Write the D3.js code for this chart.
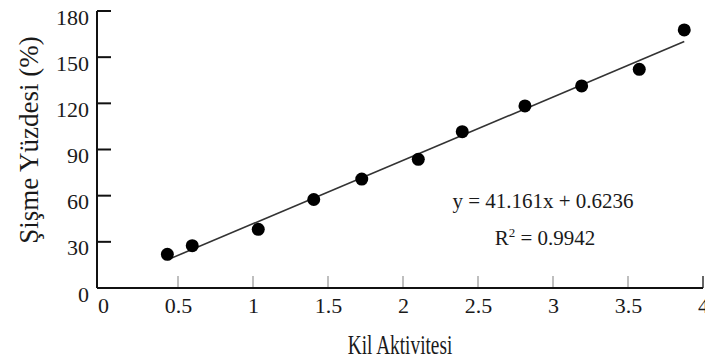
<!DOCTYPE html>
<html><head><meta charset="utf-8">
<script src="https://cdn.jsdelivr.net/npm/d3@7"></script>
<style>body{margin:0;background:#fff}svg{display:block}text{font-family:"Liberation Serif","Times New Roman",serif;fill:#1a1a1a}</style>
</head><body><svg id="c" width="705" height="364"></svg>
<script>
const xValues = [0.429, 0.595, 1.035, 1.405, 1.725, 2.102, 2.395, 2.813, 3.191, 3.575, 3.875];
const yValues = [21.9, 27.5, 38.1, 57.5, 70.8, 83.6, 101.6, 118.3, 131.3, 142.1, 167.7];
const xTicks = [0, 0.5, 1, 1.5, 2, 2.5, 3, 3.5, 4];
const yTicks = [0, 30, 60, 90, 120, 150, 180];
const slope = 41.161, intercept = 0.6236;
const eqText = "y = 41.161x + 0.6236";
const r2Text = "0.9942";
const xTitle = "Kil Aktivitesi";
const yTitle = "Şişme Yüzdesi (%)";

const svg = d3.select("#c");
const x = d3.scaleLinear().domain([-0.04, 4]).range([97, 703]);
const y = d3.scaleLinear().domain([0, 180]).range([288, 11]);

// x axis
const xa = svg.append("g").attr("transform", `translate(0,${y(0)})`)
  .call(d3.axisBottom(x).tickValues(xTicks).tickSize(0).tickPadding(9).tickFormat(d => d));
xa.select(".domain").remove();
xa.selectAll("text").attr("font-size", 22).attr("font-family", "Liberation Serif").attr("fill", "#1a1a1a").attr("dy", "0.71em");
svg.append("g").selectAll("line").data(xTicks.filter(d => d > 0)).join("line")
  .attr("x1", d => x(d)).attr("x2", d => x(d)).attr("y1", y(0)).attr("y2", y(0) - 12)
  .attr("stroke", d => d === 4 ? "#333" : "#aaa").attr("stroke-width", 1.5);
svg.append("line").attr("x1", x(-0.04)).attr("x2", x(4)).attr("y1", y(0)).attr("y2", y(0))
  .attr("stroke", "#111").attr("stroke-width", 2);

// y axis
const ya = svg.append("g").attr("transform", `translate(${x(-0.04)},0)`)
  .call(d3.axisLeft(y).tickValues(yTicks).tickSize(0).tickPadding(8));
ya.select(".domain").remove();
ya.selectAll("text").attr("font-size", 22).attr("font-family", "Liberation Serif").attr("fill", "#1a1a1a").attr("y", 6);
svg.append("g").selectAll("line").data(yTicks.filter(d => d > 0)).join("line")
  .attr("x1", x(-0.04)).attr("x2", x(-0.04) + 14).attr("y1", d => y(d)).attr("y2", d => y(d))
  .attr("stroke", "#111").attr("stroke-width", 2);
svg.append("line").attr("x1", x(-0.04)).attr("x2", x(-0.04)).attr("y1", y(180)).attr("y2", y(0))
  .attr("stroke", "#111").attr("stroke-width", 2);

// trend line
const x0 = d3.min(xValues), x1 = d3.max(xValues);
svg.append("line").attr("x1", x(x0)).attr("y1", y(slope * x0 + intercept))
  .attr("x2", x(x1)).attr("y2", y(slope * x1 + intercept))
  .attr("stroke", "#333").attr("stroke-width", 1.6);

// points
svg.append("g").selectAll("circle").data(xValues.map((v, i) => [v, yValues[i]])).join("circle")
  .attr("cx", d => x(d[0])).attr("cy", d => y(d[1])).attr("r", 6.5).attr("fill", "#000");

// equation
svg.append("text").attr("x", 543).attr("y", 208).attr("text-anchor", "middle")
  .attr("font-size", 21).text(eqText);
const r2 = svg.append("text").attr("x", 545).attr("y", 245).attr("text-anchor", "middle").attr("font-size", 21);
r2.append("tspan").text("R");
r2.append("tspan").attr("font-size", 13).attr("dy", -8).text("2");
r2.append("tspan").attr("dy", 8).text(" = " + r2Text);

// titles
svg.append("text").attr("transform", "translate(400,354) scale(0.69,1)").attr("text-anchor", "middle")
  .attr("font-size", 28).text(xTitle);
svg.append("text").attr("transform", "translate(38,140) rotate(-90)").attr("text-anchor", "middle")
  .attr("font-size", 27).text(yTitle);
</script></body></html>
